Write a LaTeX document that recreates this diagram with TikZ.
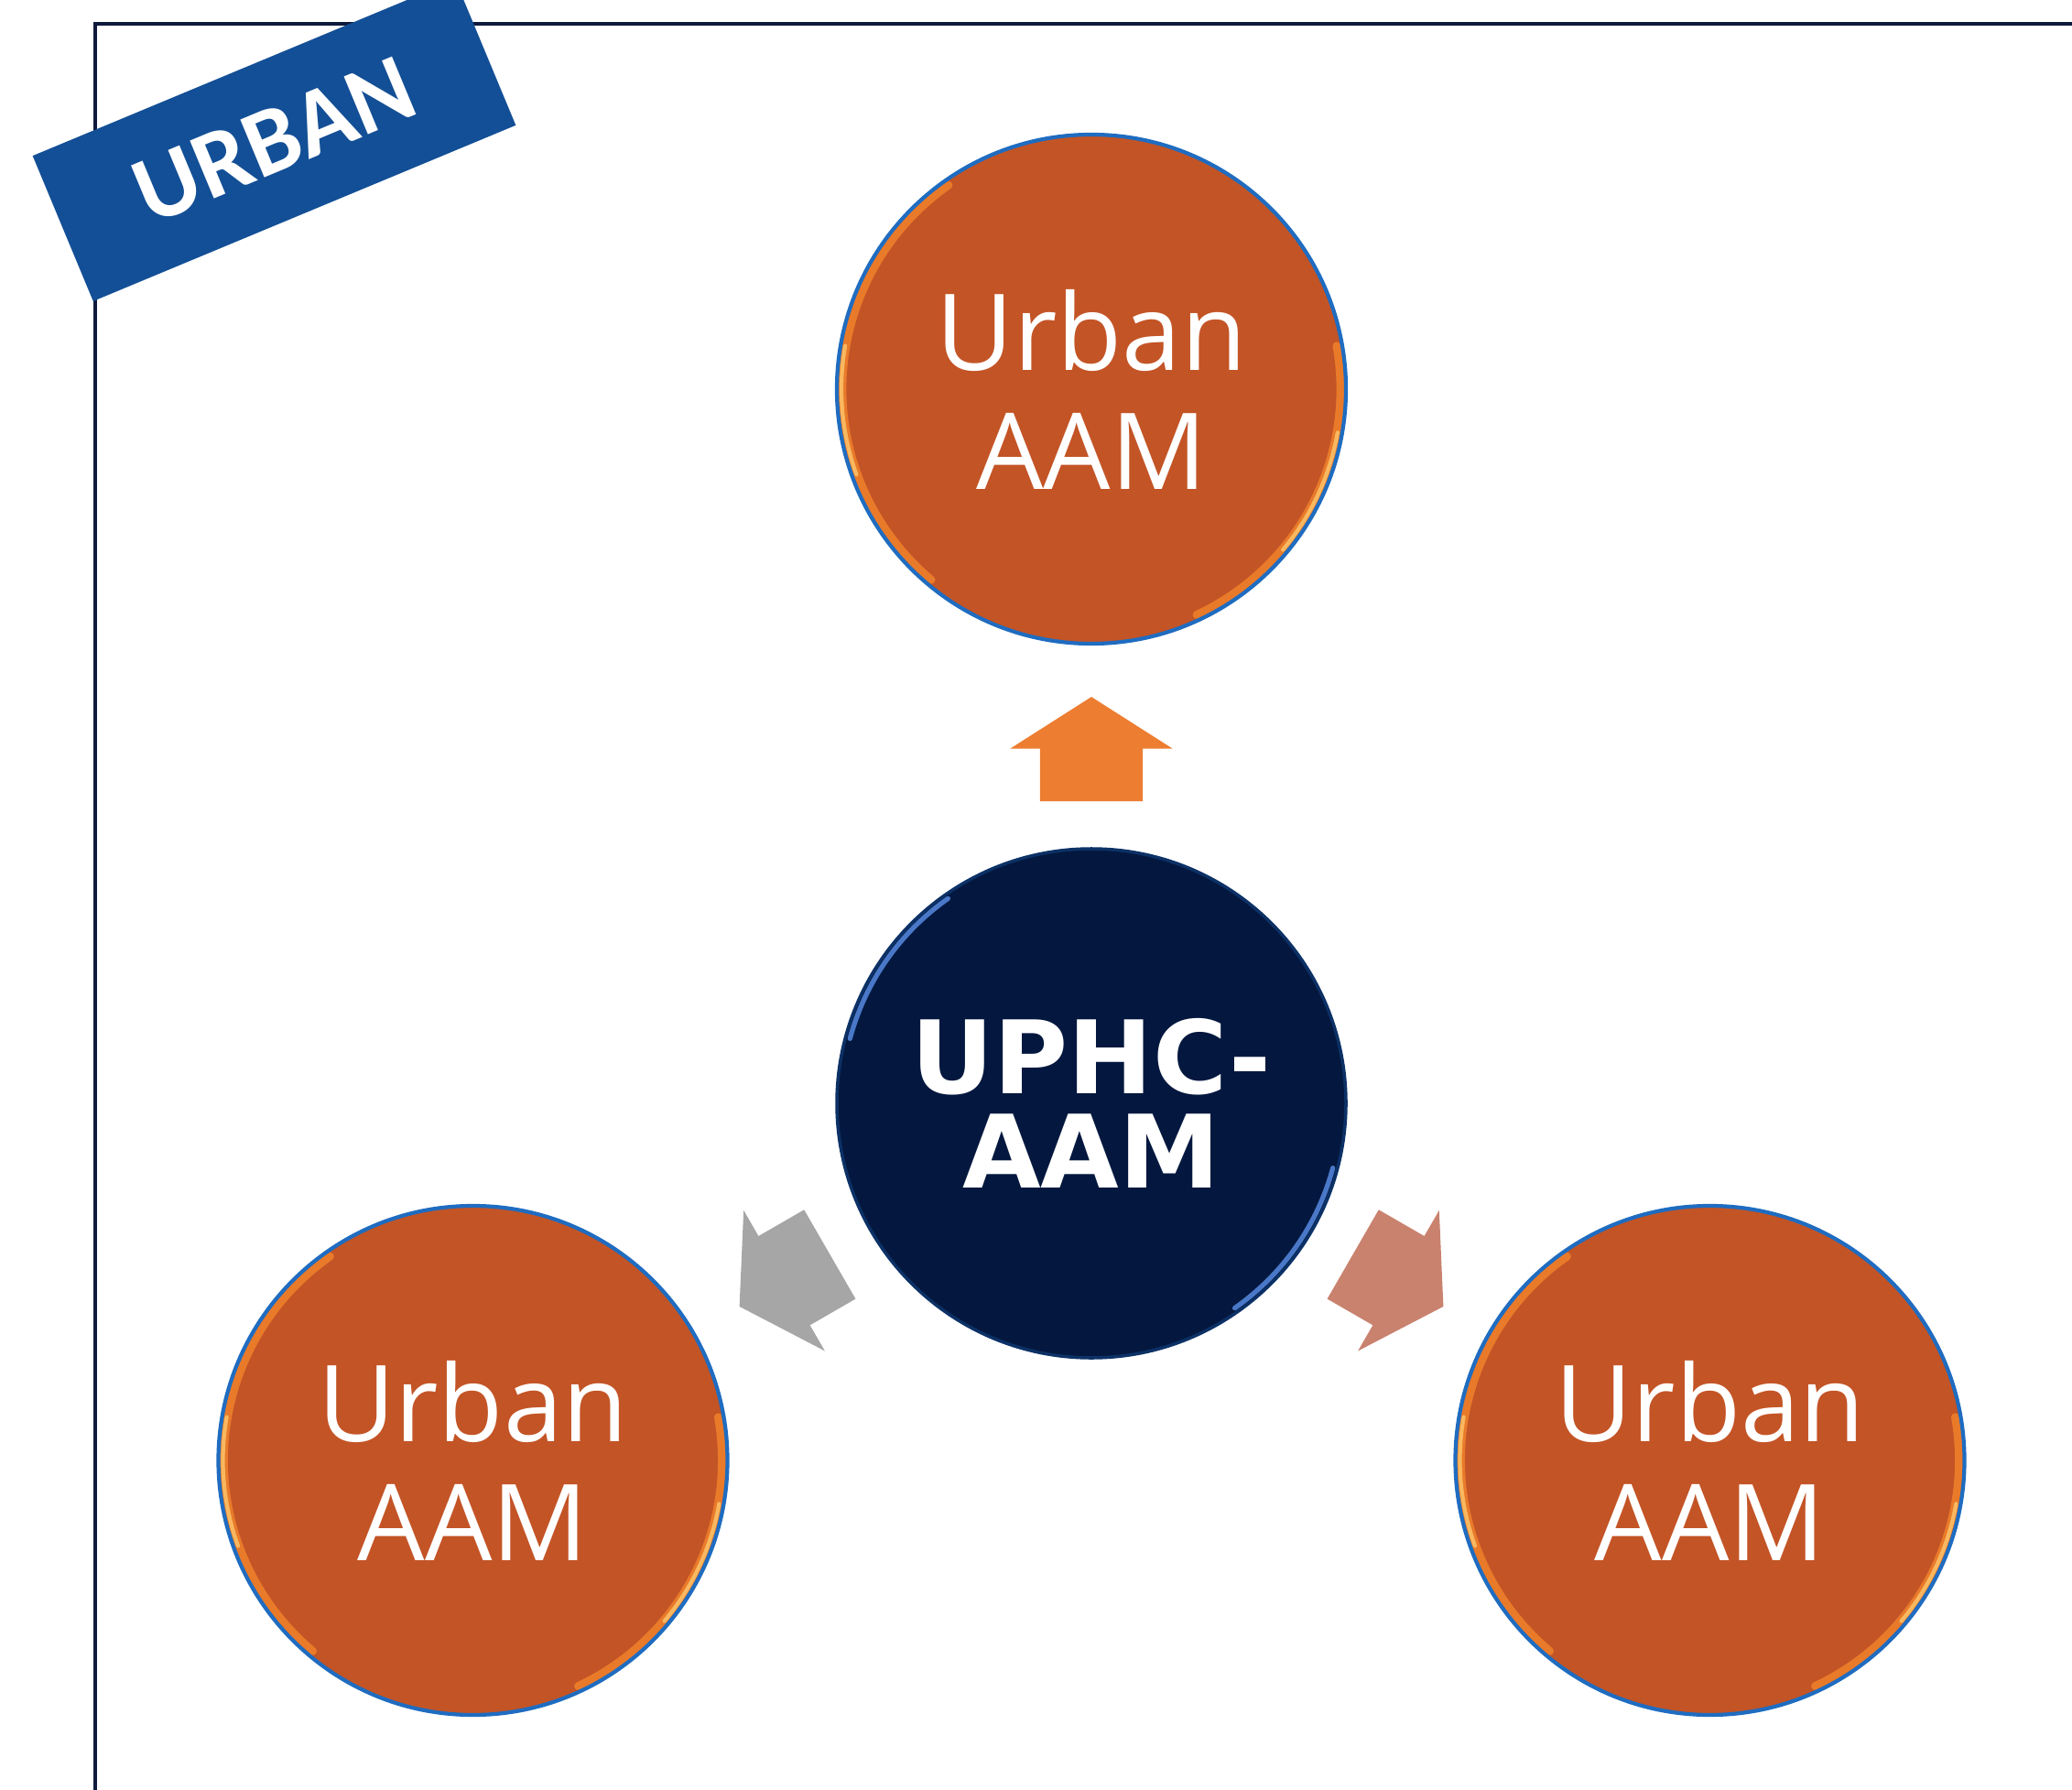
\documentclass[tikz,border=0pt]{standalone}
\usepackage{fontspec}
\newfontfamily\circlefont{Open Sans}
\newfontfamily\hubfont{DejaVu Sans}
\newfontfamily\bannerfont{Carlito}
\usetikzlibrary{shapes.arrows,calc}
\definecolor{aamorange}{HTML}{C35426}
\definecolor{hubnavy}{HTML}{04183F}
\definecolor{rimblue}{HTML}{1F6CC0}
\definecolor{glowblue}{HTML}{4A78C8}
\definecolor{gloworange}{HTML}{E97A2A}
\definecolor{glowyellow}{HTML}{F9B860}
\definecolor{bannerblue}{HTML}{134F96}
\definecolor{framenavy}{HTML}{0F1B3D}
\definecolor{uparrow}{HTML}{ED7D31}
\definecolor{leftarrow}{HTML}{A6A6A6}
\definecolor{rightarrow}{HTML}{C9826E}

\begin{document}
\begin{tikzpicture}[
  aam/.style={circle, fill=aamorange, draw=rimblue, line width=1.2pt, minimum size=5.56cm, inner sep=0pt,
    align=center, text=white, font=\circlefont\fontsize{33}{37}\selectfont,
    path picture={
      \draw[gloworange, line width=2.5pt, line cap=round] (path picture bounding box.center) ++(125:2.72) arc (125:230:2.72);
      \draw[glowyellow, line width=1.2pt, line cap=round] (path picture bounding box.center) ++(170:2.73) arc (170:200:2.73);
      \draw[gloworange, line width=2.5pt, line cap=round] (path picture bounding box.center) ++(-65:2.72) arc (-65:10:2.72);
      \draw[glowyellow, line width=1.2pt, line cap=round] (path picture bounding box.center) ++(-40:2.73) arc (-40:-10:2.73);
    }},
  hub/.style={circle, fill=hubnavy, draw=hubnavy!70!rimblue, line width=1pt, minimum size=5.56cm, inner sep=0pt,
    align=center, text=white, font=\hubfont\bfseries\fontsize{31.5}{29.5}\selectfont,
    path picture={
      \draw[glowblue, line width=1.5pt, line cap=round] (path picture bounding box.center) ++(125:2.73) arc (125:165:2.73);
      \draw[glowblue, line width=1.5pt, line cap=round] (path picture bounding box.center) ++(-55:2.73) arc (-55:-15:2.73);
    }},
  flow/.style={single arrow, fill=#1, minimum height=1.14cm, inner xsep=0pt, inner ysep=0.555cm,
    single arrow head extend=0.325cm, single arrow tip angle=115, anchor=tail},
  node distance=7.8cm
]
\useasboundingbox (0,0) rectangle (22.63,-19.55);

% frame and banner
\draw[framenavy, line width=0.9pt] (1.04,-19.7) -- (1.04,-0.26) -- (22.8,-0.26);
\node[rotate=22.6, fill=bannerblue, minimum width=5.0cm, minimum height=1.72cm, text=white,
  font=\bannerfont\bfseries\fontsize{30}{32}\selectfont] (banner) at (2.995,-1.535) {URBAN};

% circles
\node[hub] (hub) at (11.92,-12.05) {UPHC-\\AAM};
\node[aam, above of=hub] (aamtop) {Urban\\AAM};
\node[aam] (aamleft) at ([shift={(210:7.8)}]hub) {Urban\\AAM};
\node[aam] (aamright) at ([shift={(-30:7.8)}]hub) {Urban\\AAM};

% block arrows
\node[flow=uparrow, rotate=90] (uparr) at ($(hub)!0.422!(aamtop)$) {};
\node[flow=leftarrow, rotate=210] (leftarr) at ($(hub)!0.422!(aamleft)$) {};
\node[flow=rightarrow, rotate=-30] (rightarr) at ($(hub)!0.422!(aamright)$) {};
\end{tikzpicture}
\end{document}
